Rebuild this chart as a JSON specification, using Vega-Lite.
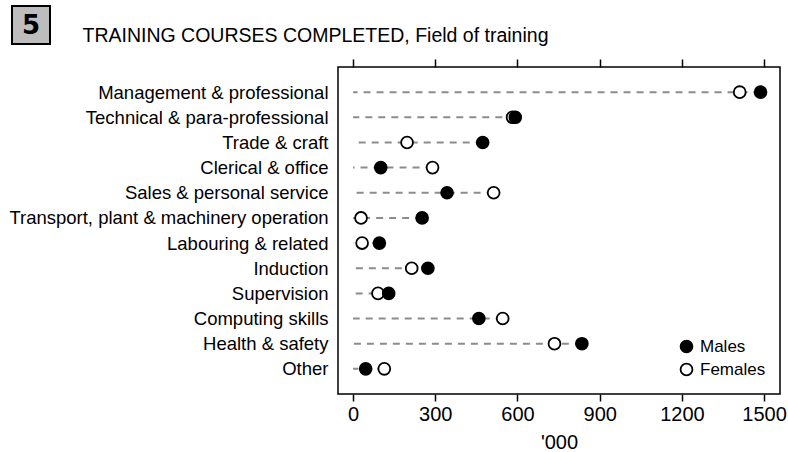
{
  "$schema": "https://vega.github.io/schema/vega-lite/v6.json",
  "padding": {"left": 8, "top": 5, "right": 0, "bottom": 0},
  "spacing": 11,
  "resolve": {"scale": {"fill": "independent"}, "legend": {"fill": "independent"}},
  "config": {
    "font": "Liberation Sans",
    "view": {"stroke": "black", "strokeWidth": 1.5}
  },
  "datasets": {
    "badge": [{"label": "5"}],
    "heading": [{"label": "TRAINING COURSES COMPLETED, Field of training"}],
    "courses": [
      {"field": "Management & professional", "sex": "Males", "value": 1487},
      {"field": "Management & professional", "sex": "Females", "value": 1411},
      {"field": "Technical & para-professional", "sex": "Males", "value": 592},
      {"field": "Technical & para-professional", "sex": "Females", "value": 582},
      {"field": "Trade & craft", "sex": "Males", "value": 473},
      {"field": "Trade & craft", "sex": "Females", "value": 197},
      {"field": "Clerical & office", "sex": "Males", "value": 101},
      {"field": "Clerical & office", "sex": "Females", "value": 290},
      {"field": "Sales & personal service", "sex": "Males", "value": 343},
      {"field": "Sales & personal service", "sex": "Females", "value": 513},
      {"field": "Transport, plant & machinery operation", "sex": "Males", "value": 252},
      {"field": "Transport, plant & machinery operation", "sex": "Females", "value": 29},
      {"field": "Labouring & related", "sex": "Males", "value": 96},
      {"field": "Labouring & related", "sex": "Females", "value": 33},
      {"field": "Induction", "sex": "Males", "value": 273},
      {"field": "Induction", "sex": "Females", "value": 214},
      {"field": "Supervision", "sex": "Males", "value": 130},
      {"field": "Supervision", "sex": "Females", "value": 91},
      {"field": "Computing skills", "sex": "Males", "value": 459},
      {"field": "Computing skills", "sex": "Females", "value": 546},
      {"field": "Health & safety", "sex": "Males", "value": 835},
      {"field": "Health & safety", "sex": "Females", "value": 735},
      {"field": "Other", "sex": "Males", "value": 46},
      {"field": "Other", "sex": "Females", "value": 114}
    ]
  },
  "vconcat": [
    {
      "spacing": 31,
      "hconcat": [
        {
          "width": 38,
          "height": 38,
          "data": {"name": "badge"},
          "view": {"fill": "#bdbdbd", "stroke": "black", "strokeWidth": 2},
          "mark": {"type": "text", "font": "DejaVu Sans", "fontWeight": "bold", "fontSize": 26, "align": "center", "baseline": "middle", "dy": 1, "color": "black"},
          "encoding": {"text": {"field": "label", "type": "nominal"}}
        },
        {
          "width": 467,
          "height": 38,
          "data": {"name": "heading"},
          "view": {"stroke": null},
          "mark": {"type": "text", "font": "Liberation Sans", "fontSize": 19.5, "align": "center", "baseline": "alphabetic", "dy": 17, "color": "black"},
          "encoding": {"text": {"field": "label", "type": "nominal"}}
        }
      ]
    },
    {
      "spacing": 9,
      "resolve": {"scale": {"y": "shared", "fill": "independent"}, "legend": {"fill": "independent"}},
      "hconcat": [
        {
          "width": 0,
          "height": 327,
          "data": {"name": "courses"},
          "view": {"stroke": null},
          "mark": {"type": "point", "opacity": 0},
          "encoding": {
            "y": {
              "field": "field",
              "type": "nominal",
              "sort": ["Management & professional", "Technical & para-professional", "Trade & craft", "Clerical & office", "Sales & personal service", "Transport, plant & machinery operation", "Labouring & related", "Induction", "Supervision", "Computing skills", "Health & safety", "Other"],
              "scale": {"type": "point", "padding": 1},
              "axis": {"orient": "right", "title": null, "ticks": false, "domain": false, "grid": false, "labelFontSize": 18.5, "labelColor": "black", "labelAlign": "right", "labelPadding": 296, "labelLimit": 500}
            }
          }
        },
        {
          "width": 442,
          "height": 327,
          "data": {"name": "courses"},
          "encoding": {
            "y": {
              "field": "field",
              "type": "nominal",
              "sort": ["Management & professional", "Technical & para-professional", "Trade & craft", "Clerical & office", "Sales & personal service", "Transport, plant & machinery operation", "Labouring & related", "Induction", "Supervision", "Computing skills", "Health & safety", "Other"],
              "scale": {"type": "point", "padding": 1},
              "axis": null
            }
          },
          "layer": [
            {
              "transform": [{"aggregate": [{"op": "max", "field": "value", "as": "maxValue"}], "groupby": ["field"]}],
              "mark": {"type": "rule", "stroke": "#8c8c8c", "strokeDash": [7, 6], "strokeWidth": 2},
              "encoding": {
                "x": {
                  "field": "maxValue",
                  "type": "quantitative",
                  "scale": {"domain": [-55, 1558], "nice": false, "zero": false},
                  "axis": {"orient": "top", "values": [0, 300, 600, 900, 1200, 1500], "labels": false, "ticks": true, "tickSize": 8, "tickColor": "black", "tickWidth": 1.5, "domain": false, "grid": false, "title": null}
                },
                "x2": {"datum": 0}
              }
            },
            {
              "mark": {"type": "point", "filled": true, "size": 140, "stroke": "black", "strokeWidth": 1.8, "opacity": 1},
              "encoding": {
                "x": {
                  "field": "value",
                  "type": "quantitative",
                  "scale": {"domain": [-55, 1558], "nice": false, "zero": false},
                  "axis": {"orient": "bottom", "values": [0, 300, 600, 900, 1200, 1500], "format": "d", "tickSize": 7, "tickColor": "black", "tickWidth": 1.5, "domain": false, "grid": false, "labelFontSize": 20, "labelColor": "black", "labelPadding": 3, "labelFlush": false, "title": "'000", "titleFontSize": 20, "titleFontWeight": "normal", "titleColor": "black", "titlePadding": 8}
                },
                "fill": {
                  "field": "sex",
                  "type": "nominal",
                  "scale": {"domain": ["Males", "Females"], "range": ["black", "white"]},
                  "legend": {"title": null, "orient": "bottom-right", "offset": 14, "labelFontSize": 17, "labelColor": "black", "rowPadding": 2, "labelOffset": 5, "symbolType": "circle", "symbolSize": 140, "symbolStrokeColor": "black", "symbolStrokeWidth": 1.8}
                },
                "order": {"field": "sex", "sort": "ascending"}
              }
            }
          ],
          "resolve": {"axis": {"x": "independent"}}
        }
      ]
    }
  ]
}
